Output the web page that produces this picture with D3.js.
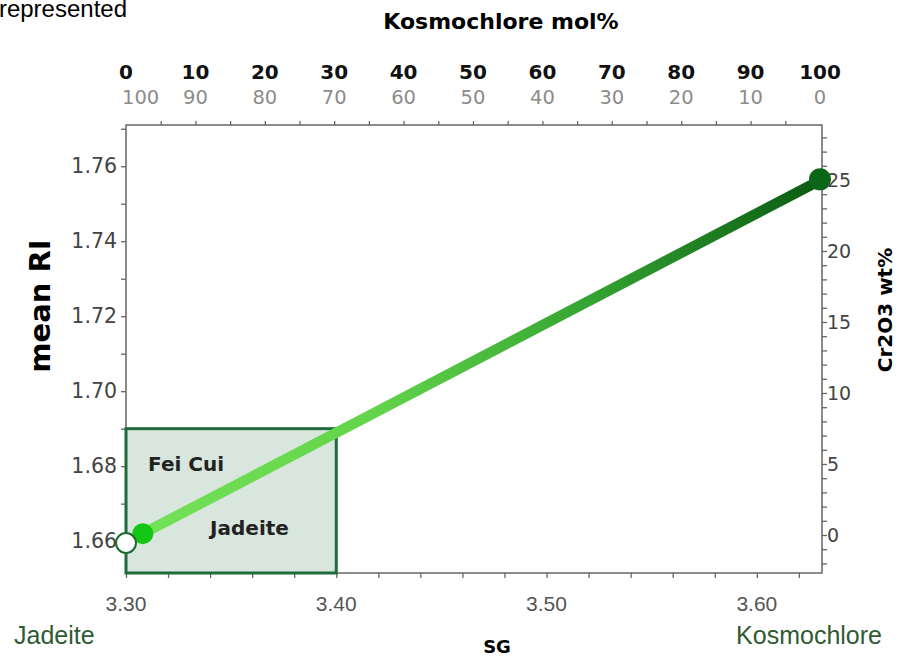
<!DOCTYPE html>
<html>
<head>
<meta charset="utf-8">
<script src="https://cdn.jsdelivr.net/npm/d3@7"></script>
<style>
	html, body { margin: 0; padding: 0; background: #fff; }
	svg { display: block; }
</style>
</head>
<body>
<svg id="viz" width="902" height="657"></svg>
<script>
// chart values
var sgTicks = [ 3.30, 3.40, 3.50, 3.60 ];
var riTicks = [ 1.66, 1.68, 1.70, 1.72, 1.74, 1.76 ];
var kosmoMolTicks = [ 0, 10, 20, 30, 40, 50, 60, 70, 80, 90, 100 ];
var jadeiteMolTicks = [ 100, 90, 80, 70, 60, 50, 40, 30, 20, 10, 0 ];
var cr2o3Ticks = [ 0, 5, 10, 15, 20, 25 ];

// solid-solution line: jadeite end -> kosmochlore end
var lineSG = [ 3.308, 3.631 ];
var lineRI = [ 1.662, 1.7565 ];
// open point for pure jadeite
var openSG = [ 3.30 ];
var openRI = [ 1.6595 ];
// Fei Cui box
var boxSG = [ 3.30, 3.40 ];
var boxRI = [ 1.6515, 1.69 ];

var svg = d3.select( '#viz' );

var plotLeft = 126, plotRight = 822, plotTop = 125, plotBottom = 573;

var x = d3.scaleLinear().domain( [ 3.30, 3.631 ] ).range( [ plotLeft, plotRight ] );
var y = d3.scaleLinear().domain( [ 1.6515, 1.771 ] ).range( [ plotBottom, plotTop ] );
var xMol = d3.scaleLinear().domain( [ 0, 100 ] ).range( [ 126, 820 ] );
var yCr = d3.scaleLinear().domain( [ 0, 25 ] ).range( [ 535, 180 ] );

var sans = 'DejaVu Sans, Verdana, sans-serif';
var arial = 'Liberation Sans, Arial, sans-serif';

// top-left cropped caption
svg.append( 'text' )
	.attr( 'x', 127 ).attr( 'y', 17 )
	.attr( 'text-anchor', 'end' )
	.style( 'font-family', arial ).style( 'font-size', '24px' )
	.text( 'represented' );

// Fei Cui box fill
svg.append( 'rect' )
	.attr( 'x', x( boxSG[0] ) )
	.attr( 'y', y( boxRI[1] ) )
	.attr( 'width', x( boxSG[1] ) - x( boxSG[0] ) )
	.attr( 'height', y( boxRI[0] ) - y( boxRI[1] ) )
	.style( 'fill', '#d9e6de' );

// axes
function styleAxis( g ) {
	g.select( '.domain' ).remove();
	g.selectAll( '.tick line' ).style( 'stroke', '#666' ).style( 'stroke-width', 1.3 );
	g.selectAll( '.tick text' ).remove();
}

svg.append( 'g' ).attr( 'transform', 'translate(0,' + plotBottom + ')' )
	.call( d3.axisBottom( x ).tickValues( d3.range( 3.30, 3.6201, 0.02 ) ).tickSize( 5 ) )
	.call( styleAxis );
svg.append( 'g' ).attr( 'transform', 'translate(' + plotLeft + ',0)' )
	.call( d3.axisLeft( y ).tickValues( d3.range( 1.66, 1.7701, 0.01 ) ).tickSize( 5 ) )
	.call( styleAxis );
svg.append( 'g' ).attr( 'transform', 'translate(0,' + plotTop + ')' )
	.call( d3.axisTop( xMol ).tickValues( d3.range( 5, 100, 5 ) ).tickSize( 4 ) )
	.call( styleAxis );
svg.append( 'g' ).attr( 'transform', 'translate(' + plotRight + ',0)' )
	.call( d3.axisRight( yCr ).tickValues( d3.range( -2, 29, 1 ) ).tickSize( 5 ) )
	.call( styleAxis );

// frame
svg.append( 'rect' )
	.attr( 'x', plotLeft ).attr( 'y', plotTop )
	.attr( 'width', plotRight - plotLeft ).attr( 'height', plotBottom - plotTop )
	.style( 'fill', 'none' )
	.style( 'stroke', '#666' )
	.style( 'stroke-width', 1.5 );

// box edges on top of frame
svg.append( 'rect' )
	.attr( 'x', x( boxSG[0] ) )
	.attr( 'y', y( boxRI[1] ) )
	.attr( 'width', x( boxSG[1] ) - x( boxSG[0] ) )
	.attr( 'height', y( boxRI[0] ) - y( boxRI[1] ) )
	.style( 'fill', 'none' )
	.style( 'stroke', '#1f6b3c' )
	.style( 'stroke-width', 3 );

// tick labels
svg.selectAll( 'text.sg' ).data( sgTicks ).enter().append( 'text' )
	.attr( 'class', 'sg' )
	.attr( 'x', function ( d ) { return x( d ); } )
	.attr( 'y', 611 )
	.attr( 'text-anchor', 'middle' )
	.style( 'font-family', arial ).style( 'font-size', '21px' ).style( 'fill', '#555' )
	.text( function ( d ) { return d.toFixed( 2 ); } );

svg.selectAll( 'text.ri' ).data( riTicks ).enter().append( 'text' )
	.attr( 'class', 'ri' )
	.attr( 'x', 117 )
	.attr( 'y', function ( d ) { return y( d ) + 7; } )
	.attr( 'text-anchor', 'end' )
	.style( 'font-family', sans ).style( 'font-size', '20.5px' ).style( 'fill', '#444' )
	.text( function ( d ) { return d.toFixed( 2 ); } );

svg.selectAll( 'text.cr' ).data( cr2o3Ticks ).enter().append( 'text' )
	.attr( 'class', 'cr' )
	.attr( 'x', 827 )
	.attr( 'y', function ( d ) { return yCr( d ) + 7; } )
	.style( 'font-family', sans ).style( 'font-size', '19px' ).style( 'fill', '#444' )
	.text( function ( d ) { return d; } );

svg.selectAll( 'text.kmol' ).data( kosmoMolTicks ).enter().append( 'text' )
	.attr( 'class', 'kmol' )
	.attr( 'x', function ( d ) { return xMol( d ); } )
	.attr( 'y', 79 )
	.attr( 'text-anchor', 'middle' )
	.style( 'font-family', sans ).style( 'font-size', '20px' ).style( 'font-weight', 'bold' ).style( 'fill', '#111' )
	.text( function ( d ) { return d; } );

svg.selectAll( 'text.jmol' ).data( jadeiteMolTicks ).enter().append( 'text' )
	.attr( 'class', 'jmol' )
	.attr( 'x', function ( d, i ) { return i === 0 ? xMol( kosmoMolTicks[i] ) - 4 : xMol( kosmoMolTicks[i] ); } )
	.attr( 'y', 104 )
	.attr( 'text-anchor', function ( d, i ) { return i === 0 ? 'start' : 'middle'; } )
	.style( 'font-family', sans ).style( 'font-size', '19.5px' ).style( 'fill', '#8c8c8c' )
	.text( function ( d ) { return d; } );

// axis titles
svg.append( 'text' )
	.attr( 'x', 501 ).attr( 'y', 29 )
	.attr( 'text-anchor', 'middle' )
	.style( 'font-family', sans ).style( 'font-size', '22px' ).style( 'font-weight', 'bold' )
	.text( 'Kosmochlore mol%' );

svg.append( 'text' )
	.attr( 'transform', 'translate(50,306) rotate(-90)' )
	.attr( 'text-anchor', 'middle' )
	.style( 'font-family', sans ).style( 'font-size', '29px' ).style( 'font-weight', 'bold' )
	.text( 'mean RI' );

svg.append( 'text' )
	.attr( 'transform', 'translate(892,310) rotate(-90)' )
	.attr( 'text-anchor', 'middle' )
	.style( 'font-family', sans ).style( 'font-size', '20px' ).style( 'font-weight', 'bold' )
	.text( 'Cr2O3 wt%' );

svg.append( 'text' )
	.attr( 'x', 497 ).attr( 'y', 653 )
	.attr( 'text-anchor', 'middle' )
	.style( 'font-family', sans ).style( 'font-size', '18px' ).style( 'font-weight', 'bold' )
	.text( 'SG' );

svg.append( 'text' )
	.attr( 'x', 14 ).attr( 'y', 644 )
	.style( 'font-family', arial ).style( 'font-size', '25px' ).style( 'fill', '#2f5a32' )
	.text( 'Jadeite' );

svg.append( 'text' )
	.attr( 'x', 882 ).attr( 'y', 644 )
	.attr( 'text-anchor', 'end' )
	.style( 'font-family', arial ).style( 'font-size', '25px' ).style( 'fill', '#2f5a32' )
	.text( 'Kosmochlore' );

// box labels
svg.append( 'text' )
	.attr( 'x', x( 3.3105 ) ).attr( 'y', y( 1.6787 ) )
	.style( 'font-family', sans ).style( 'font-size', '20px' ).style( 'font-weight', 'bold' ).style( 'fill', '#222' )
	.text( 'Fei Cui' );
svg.append( 'text' )
	.attr( 'x', x( 3.340 ) ).attr( 'y', y( 1.6616 ) )
	.style( 'font-family', sans ).style( 'font-size', '20px' ).style( 'font-weight', 'bold' ).style( 'fill', '#222' )
	.text( 'Jadeite' );

// gradient line
var pts = d3.zip( lineSG, lineRI );
var grad = svg.append( 'defs' ).append( 'linearGradient' )
	.attr( 'id', 'lineGrad' )
	.attr( 'gradientUnits', 'userSpaceOnUse' )
	.attr( 'x1', x( lineSG[0] ) ).attr( 'y1', y( lineRI[0] ) )
	.attr( 'x2', x( lineSG[1] ) ).attr( 'y2', y( lineRI[1] ) );
grad.append( 'stop' ).attr( 'offset', '0' ).attr( 'stop-color', '#74e257' );
grad.append( 'stop' ).attr( 'offset', '0.35' ).attr( 'stop-color', '#62d34a' );
grad.append( 'stop' ).attr( 'offset', '0.65' ).attr( 'stop-color', '#35a533' );
grad.append( 'stop' ).attr( 'offset', '1' ).attr( 'stop-color', '#0a5a12' );

svg.append( 'path' )
	.datum( pts )
	.attr( 'd', d3.line().x( function ( d ) { return x( d[0] ); } ).y( function ( d ) { return y( d[1] ); } ) )
	.style( 'fill', 'none' )
	.style( 'stroke', 'url(#lineGrad)' )
	.style( 'stroke-width', 10.5 );

// end points
svg.append( 'circle' )
	.attr( 'cx', x( lineSG[0] ) ).attr( 'cy', y( lineRI[0] ) ).attr( 'r', 10.5 )
	.style( 'fill', '#14c614' );
svg.append( 'circle' )
	.attr( 'cx', x( lineSG[1] ) - 2 ).attr( 'cy', y( lineRI[1] ) ).attr( 'r', 11 )
	.style( 'fill', '#0b6618' );
svg.selectAll( 'circle.open' ).data( d3.zip( openSG, openRI ) ).enter().append( 'circle' )
	.attr( 'class', 'open' )
	.attr( 'cx', function ( d ) { return x( d[0] ); } )
	.attr( 'cy', function ( d ) { return y( d[1] ); } )
	.attr( 'r', 10 )
	.style( 'fill', '#fff' )
	.style( 'stroke', '#1d6b2d' )
	.style( 'stroke-width', 2 );
</script>
</body>
</html>
